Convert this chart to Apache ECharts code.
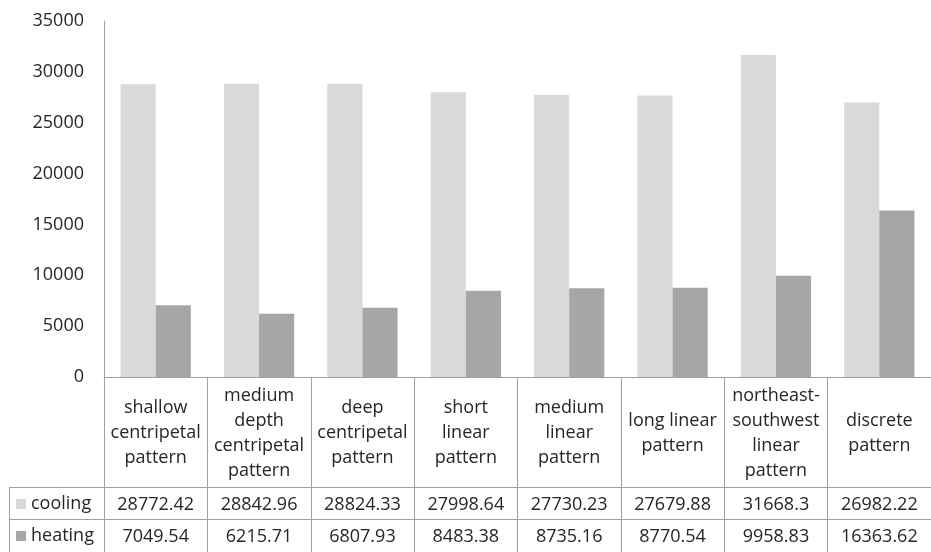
<!DOCTYPE html>
<html>
<head>
<meta charset="utf-8">
<script src="https://cdn.jsdelivr.net/npm/echarts@6/dist/echarts.min.js"></script>
<style>
  html, body { margin: 0; padding: 0; background: #fff; }
  #chart { width: 931px; height: 552px; }
</style>
</head>
<body>
<div id="chart"></div>
<script>
// Category names, wrapped the way the data-table header cells show them
const categories = [
  'shallow\ncentripetal\npattern',
  'medium\ndepth\ncentripetal\npattern',
  'deep\ncentripetal\npattern',
  'short\nlinear\npattern',
  'medium\nlinear\npattern',
  'long linear\npattern',
  'northeast-\nsouthwest\nlinear\npattern',
  'discrete\npattern'
];
const cooling = [28772.42, 28842.96, 28824.33, 27998.64, 27730.23, 27679.88, 31668.3, 26982.22];
const heating = [7049.54, 6215.71, 6807.93, 8483.38, 8735.16, 8770.54, 9958.83, 16363.62];
const yTicks = { min: 0, max: 35000, interval: 5000 };

const FONT = 'Open Sans';
const TEXT = '#262626';
const BORDER = '#a0a0a0';

// geometry of the plot and the data table underneath it
const gridLeft = 104, gridTop = 21, gridHeight = 356, gridWidth = 837;
const headerRow = 110, valueRow = 32;
const axisY = gridTop + gridHeight;

const chart = echarts.init(document.getElementById('chart'), null, { renderer: 'canvas' });

function valueRowAxis(values, offset) {
  return {
    type: 'category',
    gridIndex: 0,
    position: 'bottom',
    offset: offset,
    data: categories,
    axisLine: { show: true, lineStyle: { color: BORDER, width: 1 } },
    axisTick: { show: false },
    axisLabel: {
      interval: 0,
      margin: valueRow / 2 + 2,
      verticalAlign: 'middle',
      fontFamily: FONT, fontSize: 18, color: TEXT,
      formatter: (v, i) => String(values[i])
    }
  };
}

chart.setOption({
  animation: false,
  backgroundColor: '#ffffff',
  grid: { left: gridLeft, top: gridTop, width: gridWidth, height: gridHeight, containLabel: false },
  legend: {
    orient: 'vertical',
    left: 16,
    top: axisY + headerRow + 6,
    height: 80,
    padding: 0,
    itemWidth: 10,
    itemHeight: 10,
    itemGap: 10,
    icon: 'rect',
    selectedMode: false,
    textStyle: { fontFamily: FONT, fontSize: 18, color: TEXT, lineHeight: 22 },
    data: ['cooling', 'heating']
  },
  xAxis: [
    {
      type: 'category',
      data: categories,
      axisLine: { show: true, lineStyle: { color: BORDER, width: 1 } },
      axisTick: {
        show: true, interval: 0, alignWithLabel: false,
        length: headerRow + valueRow * 2 + 10,
        lineStyle: { color: BORDER, width: 1 }
      },
      axisLabel: {
        interval: 0,
        margin: 56,
        verticalAlign: 'middle',
        align: 'center',
        lineHeight: 25,
        fontFamily: FONT, fontSize: 18, color: TEXT
      }
    },
    valueRowAxis(cooling, headerRow),
    valueRowAxis(heating, headerRow + valueRow)
  ],
  yAxis: {
    type: 'value',
    min: yTicks.min, max: yTicks.max, interval: yTicks.interval,
    axisLine: { show: true, lineStyle: { color: BORDER, width: 1 } },
    axisTick: { show: false },
    splitLine: { show: false },
    axisLabel: {
      margin: 20, fontFamily: FONT, fontSize: 18, color: TEXT,
      formatter: (v) => String(v)
    }
  },
  series: [
    {
      name: 'cooling', type: 'bar', data: cooling,
      itemStyle: { color: '#d9d9d9' },
      barGap: '0%', barCategoryGap: '32%'
    },
    {
      name: 'heating', type: 'bar', data: heating,
      itemStyle: { color: '#a6a6a6' },
      barGap: '0%', barCategoryGap: '32%'
    }
  ],
  // left-hand borders of the table's series-name column
  graphic: [
    { type: 'line', shape: { x1: 9, y1: axisY + headerRow + 0.5, x2: gridLeft, y2: axisY + headerRow + 0.5 }, style: { stroke: BORDER, lineWidth: 1 } },
    { type: 'line', shape: { x1: 9, y1: axisY + headerRow + valueRow + 0.5, x2: gridLeft, y2: axisY + headerRow + valueRow + 0.5 }, style: { stroke: BORDER, lineWidth: 1 } },
    { type: 'line', shape: { x1: 9.5, y1: axisY + headerRow, x2: 9.5, y2: 560 }, style: { stroke: BORDER, lineWidth: 1 } }
  ]
});
</script>
</body>
</html>
